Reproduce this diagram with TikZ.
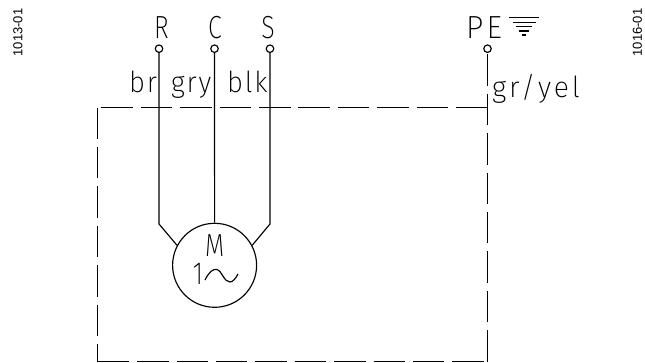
\documentclass[tikz,border=0pt]{standalone}
\usepackage{fontspec}
\newfontfamily\codefont{Liberation Sans}
\newfontfamily\isofont[FakeStretch=0.78]{Fira Sans ExtraLight}
\newfontfamily\corefont[FakeStretch=0.95,LetterSpace=6]{Fira Sans ExtraLight}
\newfontfamily\yelfont[FakeStretch=0.98,LetterSpace=10]{Fira Sans ExtraLight}
\newfontfamily\pefont[FakeStretch=0.95,LetterSpace=10]{Fira Sans ExtraLight}
\usetikzlibrary{calc}
\tikzset{
  wire/.style={draw=black, line width=1.15pt},
  enclosure/.style={draw=black, line width=1.3pt, dash pattern=on 31.5pt off 7.9pt},
  earthbar/.style={draw=black, line width=1.15pt},
  terminal/.style={circle, draw=black, line width=1.15pt, fill=white, inner sep=0pt, minimum size=7.5pt},
  motor/.style={circle, draw=black, line width=1.15pt, inner sep=0pt, minimum size=84pt},
  pinlab/.style={anchor=base, inner sep=0pt, font=\isofont\fontsize{32}{32}\selectfont},
  corelab/.style={anchor=base west, inner sep=0pt, font=\corefont\fontsize{29}{29}\selectfont},
  codelab/.style={rotate=90, inner sep=0pt, font=\codefont\fontsize{13}{13}\selectfont},
}
\begin{document}
\begin{tikzpicture}[x=1pt,y=-1pt]
  \useasboundingbox (0,0) rectangle (645,363);
  \node[terminal] (R) at (159,48.7) {};
  \node[terminal] (C) at (214.5,48.7) {};
  \node[terminal] (S) at (270,48.7) {};
  \node[terminal] (PE) at (487.5,48.7) {};
  \node[motor] (M) at (214.6,265.3) {};
  \coordinate (Rbend) at (159,224);
  \coordinate (Sbend) at (270,224);
  \coordinate (boxNW) at (97.7,107.6);
  \coordinate (boxSW) at (97.7,361.7);
  \coordinate (boxSE) at (487.5,361.7);
  \coordinate (boxNE) at (487.5,107.6);
  % enclosure, each side dashed on its own
  \draw[enclosure] (boxNE) -- (boxNW);
  \draw[enclosure] (boxNW) -- (boxSW);
  \draw[enclosure] (boxSW) -- (boxSE);
  \draw[enclosure] (boxSE) -- (PE.south);
  % motor leads
  \draw[wire] (R.south) -- (Rbend) -- (M.152);
  \draw[wire] (C.south) -- (M.north);
  \draw[wire] (S.south) -- (Sbend) -- (M.28);
  % earth symbol
  \draw[earthbar] (509,17.5) -- (539,17.5);
  \draw[earthbar] (512.5,22.2) -- (535.5,22.2);
  \draw[earthbar] (516,26.7) -- (532,26.7);
  \draw[earthbar] (519.3,31) -- (528.7,31);
  \draw[earthbar] (522.3,35) -- (525.7,35);
  % labels
  \node[pinlab] (labR) at (161.5,39) {R};
  \node[pinlab] (labC) at (215,39) {C};
  \node[pinlab] (labS) at (268,39) {S};
  \node[pinlab, anchor=base west, font=\pefont\fontsize{32}{32}\selectfont] (labPE) at (466,39) {PE};
  \node[corelab] (labbr) at (129,92.7) {br};
  \node[corelab] (labgry) at (171,92.7) {gry};
  \node[corelab] (labblk) at (227,92.7) {blk};
  \node[corelab, font=\yelfont\fontsize{29}{29}\selectfont] (labgy) at (492,97.5) {gr/yel};
  \node[pinlab] (labM) at (214.8,257) {M};
  \node[pinlab] (labone) at (198,285) {1};
  \draw[line width=1.15pt] (205,280) .. controls (209,272) and (213,268.5) .. (217,269.5)
    .. controls (222,271) and (224,282) .. (230,282) .. controls (233,282) and (236,278) .. (238,274);
  \node[codelab] (code1) at (18,32.5) {1013-01};
  \node[codelab] (code2) at (637.5,32.5) {1016-01};
\end{tikzpicture}
\end{document}
